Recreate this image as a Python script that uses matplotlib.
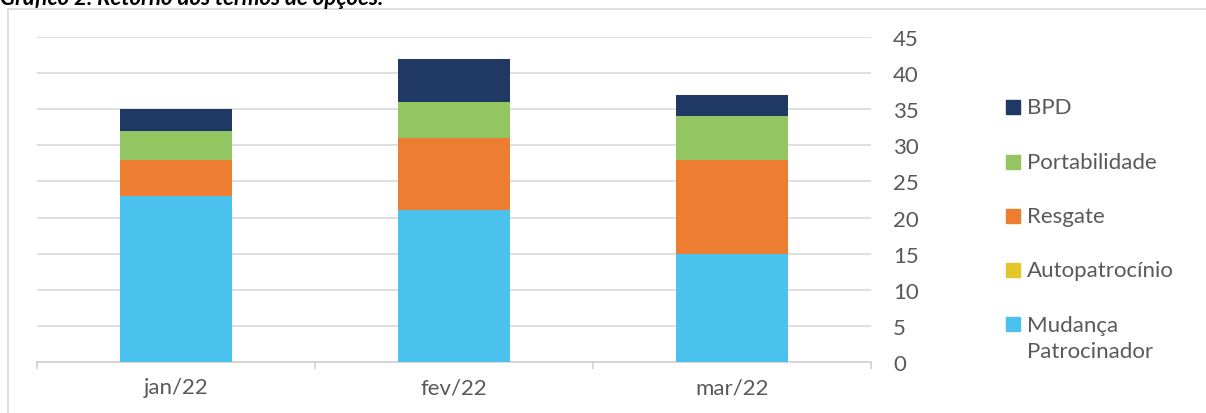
import matplotlib
matplotlib.use('Agg')
import matplotlib.pyplot as plt
from matplotlib.patches import Rectangle

months = ['jan/22', 'fev/22', 'mar/22']
mudanca = [23, 21, 15]
autopatrocinio = [0, 0, 0]
resgate = [5, 10, 13]
portabilidade = [4, 5, 6]
bpd = [3, 6, 3]

series = [
    ('Mudança\nPatrocinador', mudanca, '#4BC1EE'),
    ('Autopatrocínio', autopatrocinio, '#E2C62A'),
    ('Resgate', resgate, '#ED7D31'),
    ('Portabilidade', portabilidade, '#93C562'),
    ('BPD', bpd, '#203864'),
]

W, H = 1206, 414
fig = plt.figure(figsize=(W / 100, H / 100), dpi=100)
plt.rcParams['font.family'] = ['Lato', 'DejaVu Sans']
txt = '#595959'
fs = 16

# outer chart frame
fig.patches.append(Rectangle((8 / W, -0.1), 1.1, 1 - 10 / H + 0.1, transform=fig.transFigure,
                             fill=False, edgecolor='#D9D9D9', linewidth=1.2))

# title is cropped at the top edge, as in the source image
fig.text(0.0, 1 - 5 / H, 'Gráfico 2. Retorno dos termos de opções.', fontsize=16,
         fontweight='bold', fontstyle='italic', color='black', va='baseline', ha='left')

ax = fig.add_axes([37 / W, (H - 363) / H, (871 - 37) / W, (363 - 38) / H])
x = range(len(months))
bottom = [0] * len(months)
for name, vals, col in series:
    ax.bar(x, vals, width=0.4, bottom=bottom, color=col, zorder=3)
    bottom = [b + v for b, v in zip(bottom, vals)]

ax.set_xlim(-0.5, 2.5)
ax.set_ylim(0, 45)
ax.set_yticks(range(0, 50, 5))
ax.yaxis.tick_right()
ax.grid(axis='y', color='#D9D9D9', linewidth=1.2, zorder=0)
for s in ['top', 'left', 'right']:
    ax.spines[s].set_visible(False)
ax.spines['bottom'].set_color('#D0D0D0')
ax.spines['bottom'].set_linewidth(1.2)
ax.tick_params(axis='y', length=0, pad=16, labelsize=fs, labelcolor=txt)
ax.set_xticks(list(x))
ax.set_xticklabels(months)
ax.tick_params(axis='x', which='major', length=0, pad=11, labelsize=fs, labelcolor=txt)
ax.set_xticks([-0.5, 0.5, 1.5, 2.5], minor=True)
ax.tick_params(axis='x', which='minor', length=5, width=1.2, color='#D0D0D0', direction='out')

# legend, drawn top to bottom
leg_y = [108, 163, 217, 271, 325]
for (name, vals, col), yy in zip(series[::-1], leg_y):
    fig.patches.append(Rectangle((1006 / W, (H - yy - 7) / H), 14 / W, 14 / H,
                                 transform=fig.transFigure, color=col))
    if '\n' in name:
        fig.text(1027 / W, (H - yy + 9) / H, name, fontsize=fs, color=txt, va='top',
                 ha='left', linespacing=1.35)
    else:
        fig.text(1027 / W, (H - yy) / H, name, fontsize=fs, color=txt, va='center', ha='left')

fig.savefig('out.png', dpi=100)
